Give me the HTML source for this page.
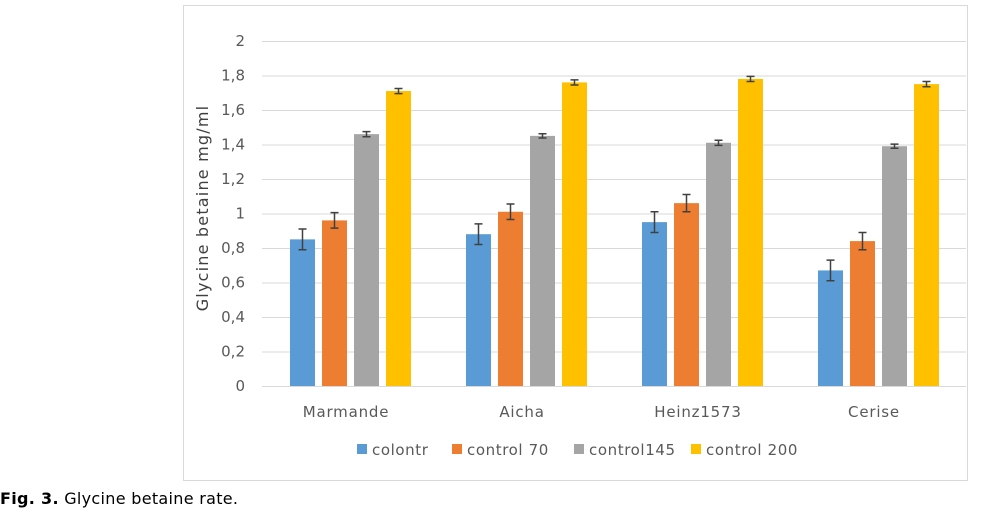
<!DOCTYPE html>
<html><head><meta charset="utf-8"><style>
body{margin:0;background:#fff;width:982px;height:518px;overflow:hidden;font-family:"DejaVu Sans","Liberation Sans",sans-serif;}
</style></head><body>
<svg width="982" height="518" xmlns="http://www.w3.org/2000/svg">
<rect x="183.5" y="5.5" width="784" height="475" fill="#fff" stroke="#d9d9d9"/>
<g id="grid"></g><g id="bars"></g><g id="labels"></g>
<text x="0" y="504" font-size="16" letter-spacing="0.3" fill="#000"><tspan font-weight="bold">Fig. 3.</tspan> Glycine betaine rate.</text>
</svg>
<script>
const categories=["Marmande","Aicha","Heinz1573","Cerise"];
const seriesNames=["colontr","control 70","control145","control 200"];
const colors=["#5b9bd5","#ed7d31","#a5a5a5","#ffc000"];
const s0=[0.85,0.88,0.95,0.67];
const s1=[0.96,1.01,1.06,0.84];
const s2=[1.46,1.45,1.41,1.39];
const s3=[1.71,1.76,1.78,1.75];
const err0=[0.06,0.06,0.06,0.06];
const err1=[0.045,0.045,0.05,0.05];
const err2=[0.015,0.012,0.015,0.012];
const err3=[0.015,0.015,0.015,0.015];
const ticks=["0","0,2","0,4","0,6","0,8","1","1,2","1,4","1,6","1,8","2"];
const series=[s0,s1,s2,s3], errs=[err0,err1,err2,err3];
const NS="http://www.w3.org/2000/svg";
const x0=262,catW=176,y0=386,pxU=172.5;
const y=v=>y0-v*pxU;
function mk(p,t,a){const e=document.createElementNS(NS,t);for(const k in a)e.setAttribute(k,a[k]);p.appendChild(e);return e;}
const grid=document.getElementById('grid'),bars=document.getElementById('bars'),lab=document.getElementById('labels');
ticks.forEach((t,i)=>{const v=i*0.2;
 const l=mk(grid,'line',{x1:x0,x2:x0+catW*4,y1:y(v)+0.5,y2:y(v)+0.5,stroke:'#d9d9d9'});
 
 
 const tx=mk(lab,'text',{x:245,y:y(v)+5,'text-anchor':'end','font-size':15,fill:'#595959'});tx.textContent=t;
 
 
});
categories.forEach((c,ci)=>{
 series.forEach((s,si)=>{
  const bx=x0+ci*catW+28+si*32,v=s[ci];
  const r=mk(bars,'rect',{x:bx,y:y(v),width:25,height:v*pxU,fill:colors[si]});
  
  
  const e=errs[si][ci],cx=bx+12.5;
  const g=mk(bars,'path',{d:`M${cx},${y(v+e)}V${y(v-e)}M${cx-4},${y(v+e)}H${cx+4}M${cx-4},${y(v-e)}H${cx+4}`,stroke:'#404040','stroke-width':1.5,fill:'none'});
  
  
 });
 const t=mk(lab,'text',{x:x0+ci*catW+catW/2-4,y:417,'text-anchor':'middle','font-size':15,'letter-spacing':0.8,fill:'#595959'});t.textContent=c;
 
 
});
const yt=mk(lab,'text',{transform:'translate(208,208) rotate(-90)','text-anchor':'middle','font-size':16,'letter-spacing':1.2,fill:'#404040'});yt.textContent='Glycine betaine mg/ml';


const lx=[357,452,574,691];
seriesNames.forEach((n,i)=>{
 const r=mk(lab,'rect',{x:lx[i],y:444,width:10,height:10,fill:colors[i]});
 
 
 const t=mk(lab,'text',{x:lx[i]+15,y:455,'font-size':15,'letter-spacing':0.6,fill:'#595959'});t.textContent=n;
 
 
});
</script>
</body></html>
